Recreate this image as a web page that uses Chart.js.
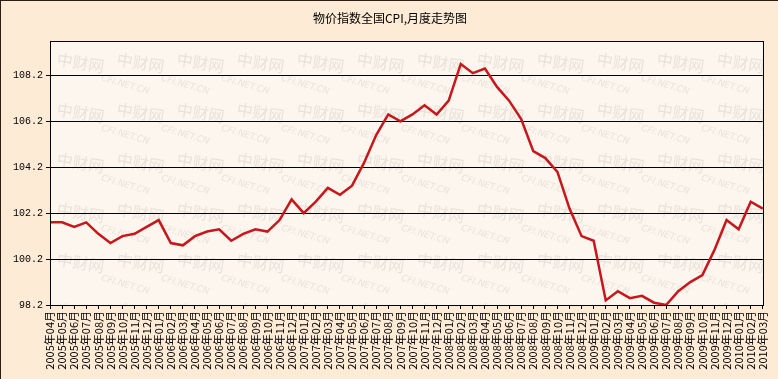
<!DOCTYPE html>
<html>
<head>
<meta charset="utf-8">
<script src="https://cdn.jsdelivr.net/npm/chart.js@4"></script>
<style>
html,body{margin:0;padding:0;background:#fdebd6;}
#wrap{width:778px;height:379px;position:relative;}
</style>
</head>
<body>
<div id="wrap"><canvas id="c" width="778" height="379"></canvas></div>
<script>
const title = "物价指数全国CPI,月度走势图";
const months = [
"2005年04月","2005年05月","2005年06月","2005年07月","2005年08月","2005年09月","2005年10月","2005年11月","2005年12月",
"2006年01月","2006年02月","2006年03月","2006年04月","2006年05月","2006年06月","2006年07月","2006年08月","2006年09月","2006年10月","2006年11月","2006年12月",
"2007年01月","2007年02月","2007年03月","2007年04月","2007年05月","2007年06月","2007年07月","2007年08月","2007年09月","2007年10月","2007年11月","2007年12月",
"2008年01月","2008年02月","2008年03月","2008年04月","2008年05月","2008年06月","2008年07月","2008年08月","2008年09月","2008年10月","2008年11月","2008年12月",
"2009年01月","2009年02月","2009年03月","2009年04月","2009年05月","2009年06月","2009年07月","2009年08月","2009年09月","2009年10月","2009年11月","2009年12月",
"2010年01月","2010年02月","2010年03月"];
const cpi = [
101.8,101.8,101.6,101.8,101.3,100.9,101.2,101.3,101.6,
101.9,100.9,100.8,101.2,101.4,101.5,101.0,101.3,101.5,101.4,101.9,102.8,
102.2,102.7,103.3,103.0,103.4,104.4,105.6,106.5,106.2,106.5,106.9,106.5,
107.1,108.7,108.3,108.5,107.7,107.1,106.3,104.9,104.6,104.0,102.4,101.2,
101.0,98.4,98.8,98.5,98.6,98.3,98.2,98.8,99.2,99.5,100.6,101.9,
101.5,102.7,102.4];
const yTicks = [98.2,100.2,102.2,104.2,106.2,108.2];
const yMin = 98.2, yMax = 109.7;

const bgPlugin = {
  id: 'bg',
  beforeDraw(chart) {
    const ctx = chart.ctx, a = chart.chartArea;
    ctx.save();
    ctx.fillStyle = '#fdebd6';
    ctx.fillRect(0, 0, chart.width, chart.height);
    ctx.fillStyle = '#2b1d14';
    ctx.fillRect(0, 0, chart.width, 1);
    ctx.fillRect(0, 0, 1, chart.height);
    ctx.fillStyle = '#fcf6ee';
    ctx.fillRect(a.left, a.top, a.right - a.left, a.bottom - a.top);
    ctx.beginPath();
    ctx.rect(a.left, a.top, a.right - a.left, a.bottom - a.top);
    ctx.clip();
    for (let y = a.top + 18; y < a.bottom + 30; y += 50) {
      for (let x = a.left + 7; x < a.right + 10; x += 60) {
        ctx.save();
        ctx.translate(x, y);
        ctx.rotate(0.16);
        ctx.fillStyle = 'rgba(195,185,178,0.32)';
        ctx.font = '16px "Noto Sans CJK SC"';
        ctx.textBaseline = 'middle';
        ctx.fillText('中财网', 0, 0);
        ctx.font = 'italic 9px "DejaVu Sans"';
        ctx.rotate(0.12);
        ctx.fillText('CFI.NET.CN', 48, 6);
        ctx.restore();
      }
    }
    ctx.restore();
  },
  afterDraw(chart) {
    const ctx = chart.ctx, a = chart.chartArea;
    ctx.save();
    ctx.strokeStyle = '#000';
    ctx.lineWidth = 1;
    ctx.strokeRect(Math.round(a.left) + 0.5, Math.round(a.top) + 0.5, Math.round(a.right - a.left), Math.round(a.bottom - a.top));
    ctx.fillStyle = '#000';
    ctx.font = '12px "Noto Sans CJK SC"';
    ctx.textAlign = 'center';
    ctx.textBaseline = 'middle';
    ctx.fillText(title, 390, 18);
    ctx.restore();
  }
};

new Chart(document.getElementById('c'), {
  type: 'line',
  data: {
    labels: months,
    datasets: [{
      data: cpi,
      borderColor: '#c8161b',
      borderWidth: 2.5,
      pointRadius: 0,
      tension: 0,
      fill: false
    }]
  },
  options: {
    responsive: false,
    animation: false,
    events: [],
    layout: { padding: { left: 0, top: 41, right: 12, bottom: 0 } },
    plugins: { legend: { display: false }, tooltip: { enabled: false }, title: { display: false } },
    scales: {
      x: {
        type: 'category',
        offset: false,
        afterFit(s) { s.height = 74; },
        grid: { display: true, drawOnChartArea: false, drawTicks: true, tickLength: 4, color: '#000', lineWidth: 1 },
        border: { display: true, color: '#000' },
        ticks: {
          autoSkip: false, maxRotation: 90, minRotation: 90, padding: 2,
          color: '#000', font: { family: '"Noto Sans CJK SC"', size: 11 }
        }
      },
      y: {
        min: yMin, max: yMax,
        afterFit(s) { s.width = 50; },
        afterBuildTicks(s) { s.ticks = yTicks.map(v => ({ value: v })); },
        grid: { display: true, drawOnChartArea: true, drawTicks: true, tickLength: 4, color: '#000', lineWidth: 1 },
        border: { display: true, color: '#000' },
        ticks: {
          padding: 3, color: '#000',
          font: { family: '"Liberation Mono"', size: 10 },
          callback: v => Number(v).toFixed(1)
        }
      }
    }
  },
  plugins: [bgPlugin]
});
</script>
</body>
</html>
